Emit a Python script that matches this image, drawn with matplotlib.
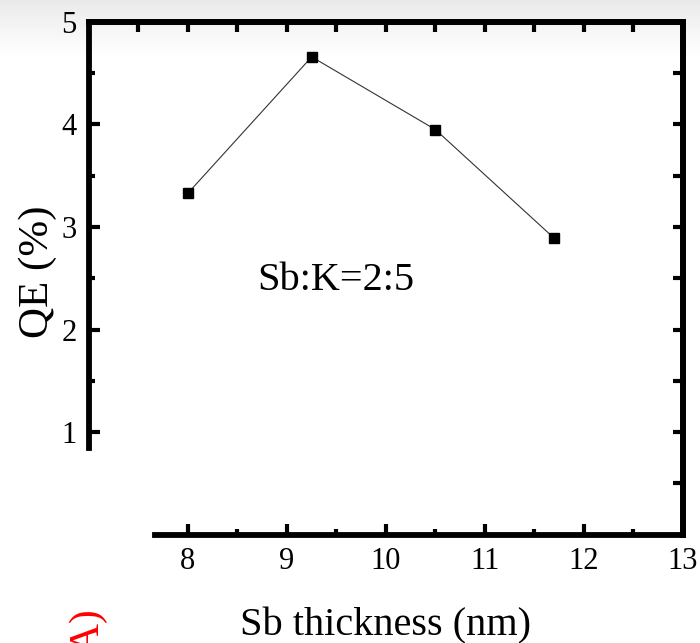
import numpy as np
import matplotlib
matplotlib.use("Agg")
import matplotlib.pyplot as plt

# Data
thickness = [8.0, 9.25, 10.5, 11.7]
qe = [3.33, 4.66, 3.95, 2.89]
x_ticks = [8, 9, 10, 11, 12, 13]
y_ticks = [1, 2, 3, 4, 5]
annotation = "Sb:K=2:5"
x_label = "Sb thickness (nm)"
y_label = "QE (%)"
panel = "(A)"

plt.rcParams['font.family'] = ['Liberation Serif', 'DejaVu Serif']

fig = plt.figure(figsize=(7.0, 6.43), dpi=100)

# slide-like background gradient at the top
bg = fig.add_axes([0, 0, 1, 1], zorder=-10)
h = 643
col = np.ones(h)
top = 60
col[:top] = 0.91 + 0.09 * (np.arange(top) / top) ** 0.8
img = np.repeat(col[:, None], 10, axis=1)
bg.imshow(img, cmap='gray', vmin=0, vmax=1, aspect='auto', extent=[0, 1, 0, 1])
bg.set_axis_off()

ax = fig.add_axes([0.127, 0.1687, 0.9757 - 0.127, 0.9658 - 0.1687])
ax.patch.set_alpha(0)
ax.plot(thickness, qe, color='#333333', lw=0.8, marker='s', ms=7.5,
        mfc='black', mec='black')
ax.set_xlim(7, 13)
ax.set_ylim(0, 5)

lw = 4.2
for s in ax.spines.values():
    s.set_linewidth(lw)
ax.spines['left'].set_bounds(0.84, 5)
ax.spines['bottom'].set_bounds(7.67, 13)

ax.set_xticks(x_ticks)
ax.set_xticks([8.5, 9.5, 10.5, 11.5, 12.5], minor=True)
ax.set_yticks(y_ticks)
ax.set_yticks([1.5, 2.5, 3.5, 4.5], minor=True)
ax.tick_params(which='both', direction='in', width=3, labelsize=22)
ax.tick_params(which='major', length=8, pad=9)
ax.tick_params(which='minor', length=4)
ax.tick_params(axis='y', pad=9)

# top and right axes with full ticks
axt = ax.secondary_xaxis('top')
axt.set_xticks([7.5, 8, 8.5, 9, 9.5, 10, 10.5, 11, 11.5, 12, 12.5])
axt.tick_params(direction='in', length=7, width=3, labeltop=False)
axt.spines['top'].set_linewidth(lw)
axr = ax.secondary_yaxis('right')
axr.set_yticks([0.5, 1, 1.5, 2, 2.5, 3, 3.5, 4, 4.5])
axr.tick_params(direction='in', length=7, width=3, labelright=False)
axr.spines['right'].set_linewidth(lw)

ax.text(8.70, 2.385, annotation, fontsize=29, ha='left', va='baseline')

fig.text(38 / 700, 1 - 272 / 643, y_label, rotation=90, fontsize=31,
         ha='center', va='center')
fig.text(386 / 700, 1 - 635 / 643, x_label, fontsize=29,
         ha='center', va='baseline')
fig.text(87 / 700, 1 - 607 / 643, panel, rotation=90, fontsize=30,
         color='red', ha='center', va='top')

fig.savefig('out.png', dpi=100)
